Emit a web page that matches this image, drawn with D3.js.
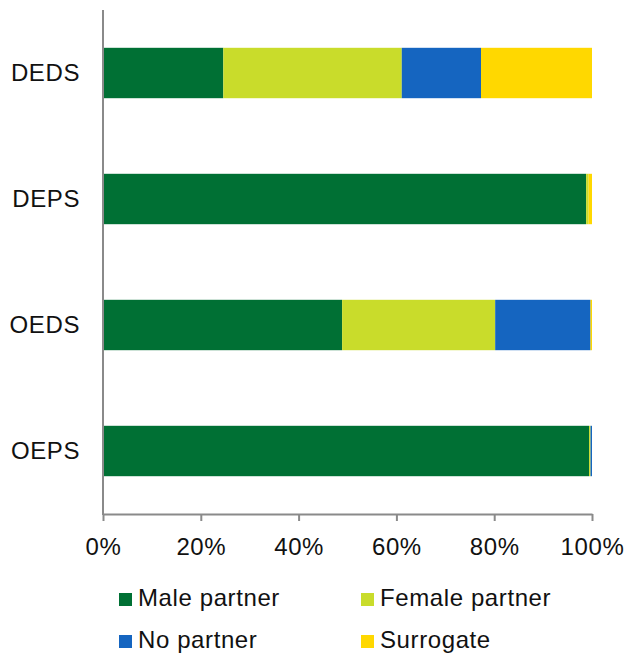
<!DOCTYPE html>
<html>
<head>
<meta charset="utf-8">
<script src="https://cdn.jsdelivr.net/npm/d3@7"></script>
<style>
  body { margin: 0; background: #fff; }
  text { font-family: "Liberation Sans", Arial, Helvetica, sans-serif; fill: #111; }
</style>
</head>
<body>
<svg id="chart" width="628" height="654"></svg>
<script>
// Categories, top to bottom
const groups = ["DEDS", "DEPS", "OEDS", "OEPS"];

// Series, as a percent of each group
const seriesNames = ["Male partner", "Female partner", "No partner", "Surrogate"];
const malePartner = [24.6, 98.8, 48.9, 99.4];
const femalePartner = [36.5, 0.5, 31.3, 0.3];
const noPartner = [16.2, 0.0, 19.5, 0.3];
const surrogate = [22.7, 0.7, 0.3, 0.0];

const colors = ["#007034", "#c9dc2b", "#1565c0", "#ffd800"];
const tickValues = [0, 20, 40, 60, 80, 100];

const FONT_SIZE = 24;
const LETTER_SPACING = 0.6;

// Build rows for the stack layout
const rows = groups.map((g, i) => ({
  group: g,
  "Male partner": malePartner[i],
  "Female partner": femalePartner[i],
  "No partner": noPartner[i],
  "Surrogate": surrogate[i]
}));

const stacked = d3.stack().keys(seriesNames)(rows);

const svg = d3.select("#chart");
const margin = { left: 103, right: 36, top: 10, bottom: 140 };
const width = 628;
const height = 654;

const x = d3.scaleLinear()
  .domain([0, 100])
  .range([margin.left, width - margin.right]);

const y = d3.scaleBand()
  .domain(groups)
  .range([margin.top, height - margin.bottom])
  .paddingInner(0.6)
  .paddingOuter(0.3);

const color = d3.scaleOrdinal().domain(seriesNames).range(colors);

// Bars
svg.append("g")
  .selectAll("g")
  .data(stacked)
  .enter()
  .append("g")
  .attr("fill", (d) => color(d.key))
  .selectAll("rect")
  .data((d) => d)
  .enter()
  .append("rect")
  .attr("x", (d) => x(d[0]))
  .attr("y", (d) => y(d.data.group))
  .attr("width", (d) => Math.max(0, x(d[1]) - x(d[0])))
  .attr("height", y.bandwidth());

// X axis
const xAxis = svg.append("g")
  .attr("transform", "translate(0," + (height - margin.bottom) + ")")
  .call(d3.axisBottom(x).tickValues(tickValues).tickFormat((d) => d + "%").tickSize(7).tickSizeOuter(0));
xAxis.select(".domain").attr("stroke", "#8a8a8a").attr("stroke-width", 2);
xAxis.selectAll(".tick line").attr("stroke", "#8a8a8a").attr("stroke-width", 2);
xAxis.selectAll(".tick text")
  .attr("font-size", FONT_SIZE)
  .attr("letter-spacing", LETTER_SPACING)
  .attr("dy", 0)
  .attr("y", 41)
  .style("font-family", "'Liberation Sans', Arial, sans-serif")
  .attr("fill", "#111");

// Y axis
const yAxis = svg.append("g")
  .attr("transform", "translate(" + margin.left + ",0)")
  .call(d3.axisLeft(y).tickSize(0).tickPadding(23));
yAxis.select(".domain")
  .attr("stroke", "#8a8a8a")
  .attr("stroke-width", 2)
  .attr("d", "M0," + margin.top + "V" + (height - margin.bottom + 1));
yAxis.selectAll(".tick text")
  .attr("font-size", FONT_SIZE)
  .attr("letter-spacing", LETTER_SPACING)
  .style("font-family", "'Liberation Sans', Arial, sans-serif")
  .attr("fill", "#111");

// Legend, two columns
const legend = svg.append("g")
  .selectAll("g")
  .data(seriesNames)
  .enter()
  .append("g")
  .attr("transform", (d, i) => "translate(" + (119 + (i % 2) * 242) + "," + (592 + Math.floor(i / 2) * 42) + ")");

legend.append("rect")
  .attr("y", 1)
  .attr("width", 13)
  .attr("height", 13)
  .attr("fill", (d) => color(d));

legend.append("text")
  .attr("x", 19)
  .attr("y", 14)
  .attr("font-size", FONT_SIZE)
  .attr("letter-spacing", LETTER_SPACING)
  .text((d) => d);
</script>
</body>
</html>
